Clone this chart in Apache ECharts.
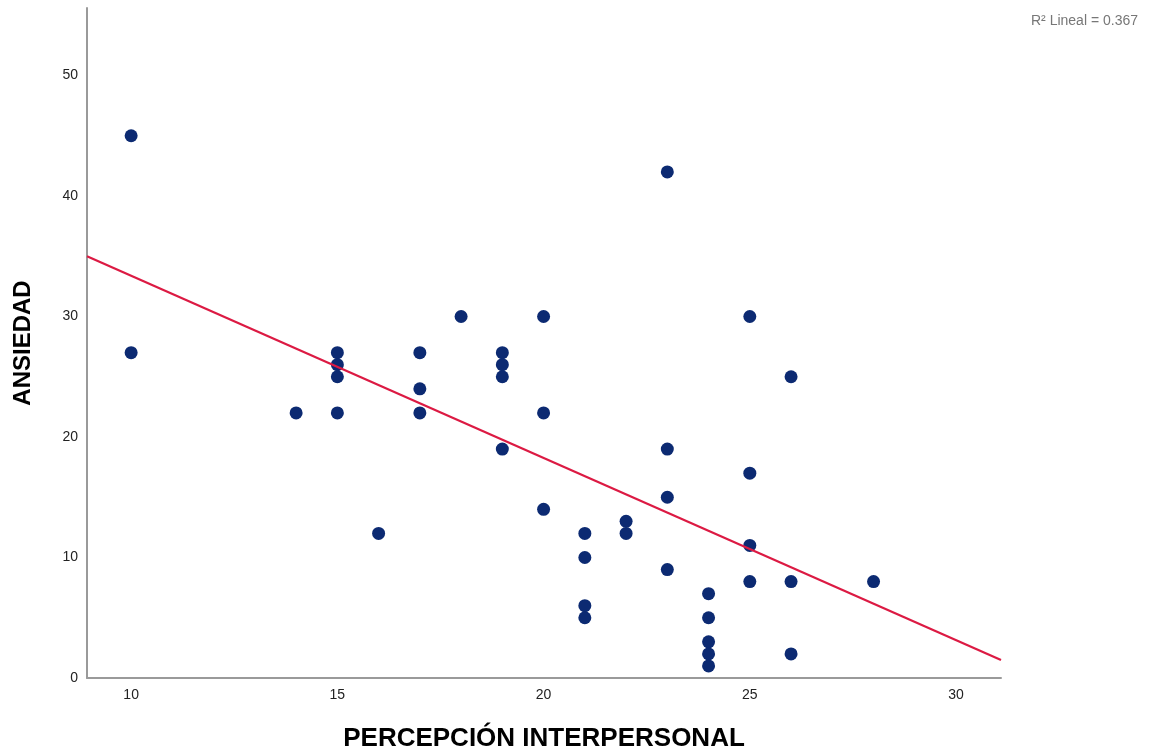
<!DOCTYPE html>
<html>
<head>
<meta charset="utf-8">
<script src="https://cdn.jsdelivr.net/npm/echarts@6/dist/echarts.min.js"></script>
<style>
html, body { margin: 0; padding: 0; background: #fff; }
#chart { width: 1149px; height: 751px; }
</style>
</head>
<body>
<div id="chart"></div>
<script>
// puntos: [percepcion, ansiedad]
var puntos = [
    [10, 45], [10, 27], [14, 22], [15, 27], [15, 26], [15, 25], [15, 22],
    [16, 12], [17, 27], [17, 24], [17, 22], [18, 30], [19, 27], [19, 26],
    [19, 25], [19, 19], [20, 30], [20, 22], [20, 14], [21, 12], [21, 10],
    [21, 6], [21, 5], [22, 13], [22, 12], [23, 42], [23, 19], [23, 15],
    [23, 9], [24, 7], [24, 5], [24, 3], [24, 2], [24, 1], [25, 30],
    [25, 17], [25, 11], [25, 8], [26, 25], [26, 8], [26, 2], [28, 8]
];
// extremos de la recta de ajuste
var recta = [[8.93, 35.0], [31.09, 1.5]];
var xTicks = [10, 15, 20, 25, 30];
var yTicks = [0, 10, 20, 30, 40, 50];
var r2Texto = 'R² Lineal = 0.367';

var fuente = 'Liberation Sans, Arial, sans-serif';

var option = {
    animation: false,
    grid: { left: 87, right: 148, top: 8, bottom: 73, outerBoundsMode: 'none' },
    xAxis: {
        type: 'value',
        min: 8.93,
        max: 31.09,
        name: 'PERCEPCIÓN INTERPERSONAL',
        nameLocation: 'middle',
        nameGap: 48,
        nameTextStyle: { fontFamily: fuente, fontSize: 26, fontWeight: 'bold', color: '#000' },
        axisLine: { lineStyle: { color: '#9a9a9a', width: 2 } },
        axisTick: { show: false },
        splitLine: { show: false },
        axisLabel: {
            customValues: xTicks,
            fontFamily: fuente, fontSize: 14, color: '#222', margin: 10
        }
    },
    yAxis: {
        type: 'value',
        min: 0,
        max: 55.6,
        name: 'ANSIEDAD',
        nameLocation: 'middle',
        nameGap: 52,
        nameRotate: 90,
        nameTextStyle: { fontFamily: fuente, fontSize: 24, fontWeight: 'bold', color: '#000' },
        axisLine: { show: true, lineStyle: { color: '#9a9a9a', width: 2 } },
        axisTick: { show: false },
        splitLine: { show: false },
        axisLabel: {
            customValues: yTicks,
            fontFamily: fuente, fontSize: 14, color: '#222', margin: 9
        }
    },
    graphic: [{
        type: 'text',
        right: 11,
        top: 14,
        style: { text: r2Texto, fontFamily: fuente, fontSize: 14, fill: '#777' }
    }],
    series: [{
        type: 'scatter',
        data: puntos,
        symbolSize: 13,
        itemStyle: { color: '#0c2a72', opacity: 1 },
        z: 2
    }, {
        type: 'line',
        data: recta,
        showSymbol: false,
        symbol: 'none',
        lineStyle: { color: '#dc1a43', width: 2.2 },
        z: 3
    }]
};

var myChart = echarts.init(document.getElementById('chart'));
myChart.setOption(option);
</script>
</body>
</html>
